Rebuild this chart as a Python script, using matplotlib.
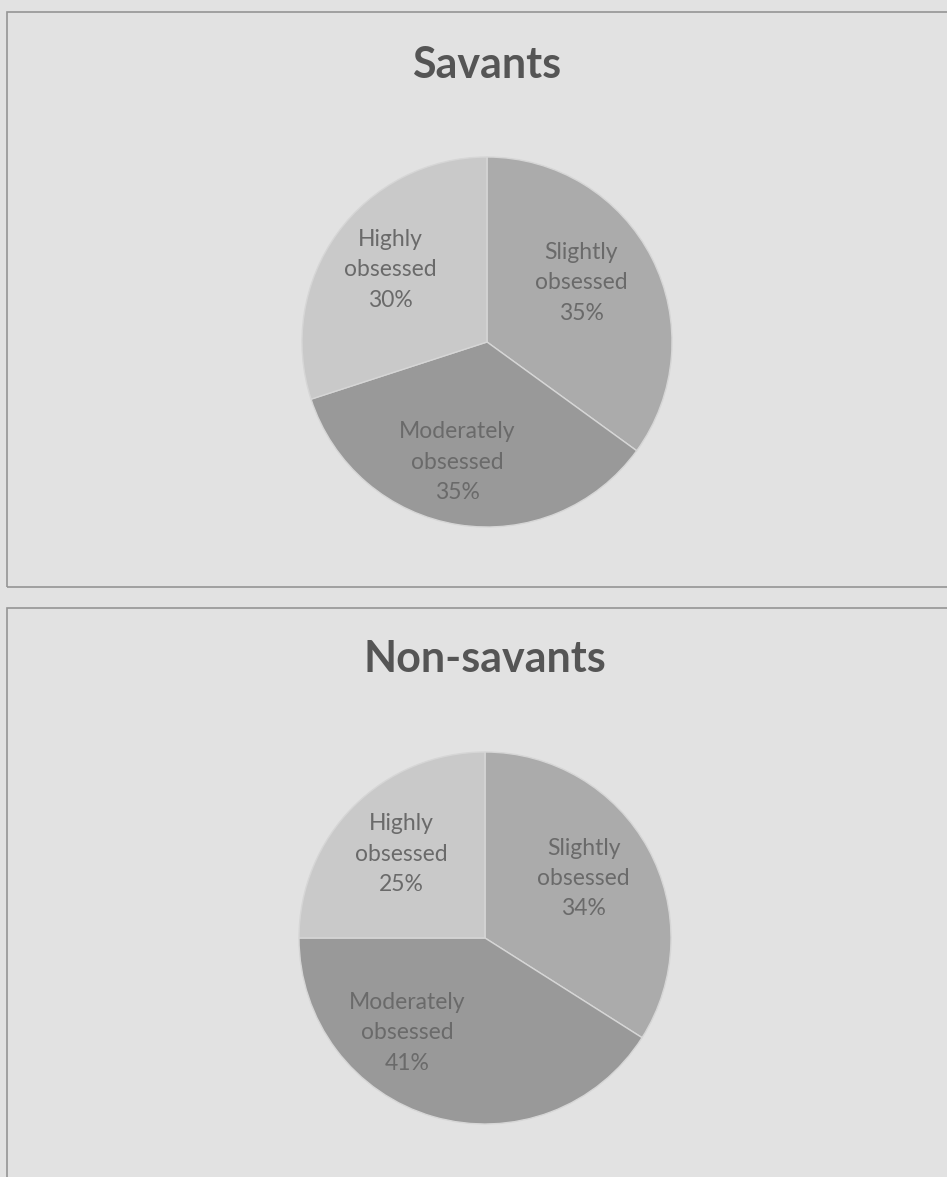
import matplotlib
matplotlib.use("Agg")
import matplotlib.pyplot as plt
from matplotlib.patches import Rectangle

# Survey data: share of respondents at each obsession level
categories = ["Slightly\nobsessed", "Moderately\nobsessed", "Highly\nobsessed"]
savants_pct = [35, 35, 30]
nonsavants_pct = [34, 41, 25]
chart_titles = ["Savants", "Non-savants"]

slice_colors = ["#ababab", "#999999", "#c9c9c9"]
bg_color = "#e2e2e2"
label_color = "#6a6a6a"
title_color = "#555555"

W, H = 947, 1177
fig = plt.figure(figsize=(W / 100, H / 100), dpi=100)
fig.patch.set_facecolor(bg_color)


def fx(x):
    return x / W


def fy(y):
    return 1 - y / H


# Panel frames (the right and lower edges run off the page)
frames = [(7, 12, 960, 587), (7, 608, 960, 1190)]
for x0, y0, x1, y1 in frames:
    fig.patches.append(Rectangle((fx(x0), fy(y1)), fx(x1) - fx(x0), fy(y0) - fy(y1),
                                 transform=fig.transFigure, fill=False,
                                 edgecolor="#959595", linewidth=1.2, zorder=0))

# Pie centres / radii in pixels and label anchors (fractions of the radius)
panels = [
    dict(cx=487, cy=342, r=185, title_y=78,
         label_xy=[(0.51, 0.32), (-0.16, -0.65), (-0.52, 0.39)]),
    dict(cx=485, cy=938, r=186, title_y=672,
         label_xy=[(0.53, 0.32), (-0.42, -0.51), (-0.45, 0.45)]),
]

for title, values, p in zip(chart_titles, [savants_pct, nonsavants_pct], panels):
    r = p["r"]
    ax = fig.add_axes([fx(p["cx"] - r), fy(p["cy"] + r), 2 * r / W, 2 * r / H])
    ax.set_facecolor("none")
    ax.pie(values, colors=slice_colors, startangle=90, counterclock=False,
           radius=1, wedgeprops=dict(edgecolor="#d6d6d6", linewidth=1.0))
    ax.set_xlim(-1, 1)
    ax.set_ylim(-1, 1)
    ax.set_aspect("equal")
    ax.axis("off")
    total = sum(values)
    for name, v, (lx, ly) in zip(categories, values, p["label_xy"]):
        ax.text(lx, ly, f"{name}\n{round(100 * v / total)}%", ha="center", va="center",
                fontsize=16.5, family="Lato", color=label_color, linespacing=1.55)
    fig.text(fx(p["cx"]), fy(p["title_y"]), title, ha="center", va="baseline",
             fontsize=31, family="Lato", fontweight="bold", color=title_color)

fig.savefig("out.png", dpi=100, facecolor=bg_color)
